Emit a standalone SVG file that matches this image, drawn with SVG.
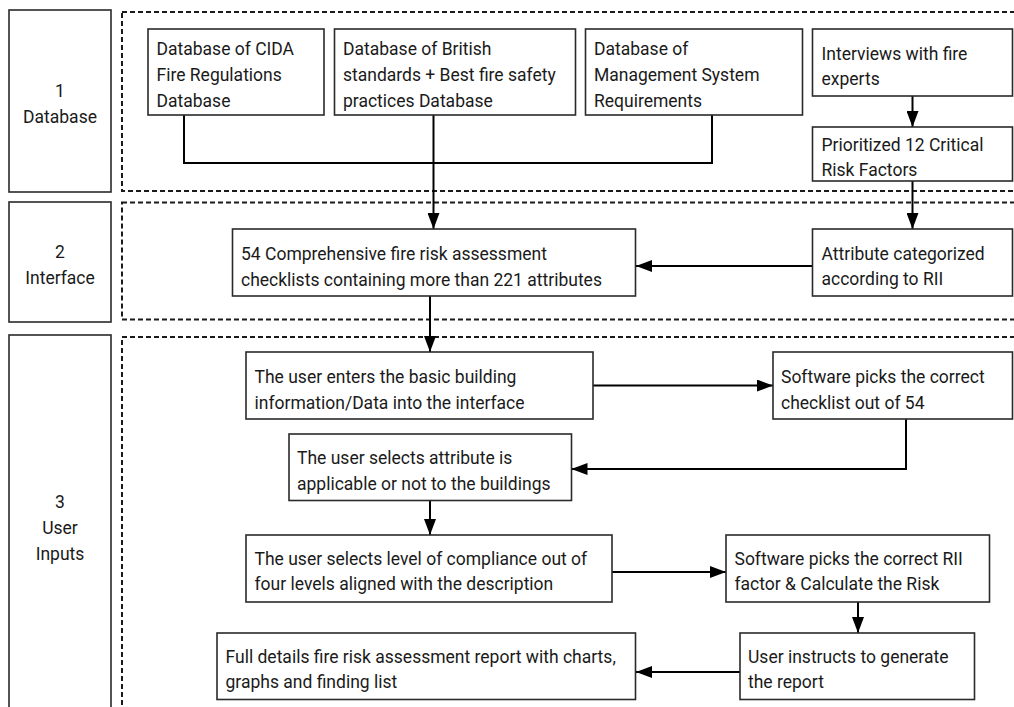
<svg xmlns="http://www.w3.org/2000/svg" width="1014" height="707" viewBox="0 0 1014 707">
<defs>
<style>
.box{fill:#fff;stroke:#2a2a2a;stroke-width:1.6}
.lane{fill:none;stroke:#1a1a1a;stroke-width:2;stroke-dasharray:5 3}
.t{font-family:Roboto,"Liberation Sans",sans-serif;font-size:17.5px;fill:#1a1a1a}
.c{text-anchor:middle}
.conn{fill:none;stroke:#000;stroke-width:2}
</style>
<marker id="ah" markerUnits="userSpaceOnUse" markerWidth="16" markerHeight="12" refX="16" refY="6" orient="auto">
<path d="M0,0 L16,6 L0,12 z" fill="#000"/>
</marker>
</defs>
<rect width="1014" height="707" fill="#fff"/>

<g id="lanes">
<rect class="lane" x="122" y="12" width="1000" height="179"/>
<rect class="lane" x="122" y="202.5" width="1000" height="117"/>
<rect class="lane" x="122" y="337" width="1000" height="420"/>
</g>

<g id="lane-1-label"><rect class="box" x="9" y="10" width="102" height="182"/>
<text class="t c" x="60" y="96.5">1</text><text class="t c" x="60" y="122.5">Database</text></g>
<g id="lane-2-label"><rect class="box" x="9" y="202" width="102" height="120"/>
<text class="t c" x="60" y="258">2</text><text class="t c" x="60" y="284">Interface</text></g>
<g id="lane-3-label"><rect class="box" x="9" y="335" width="102" height="420"/>
<text class="t c" x="60" y="508">3</text><text class="t c" x="60" y="534">User</text><text class="t c" x="60" y="560">Inputs</text></g>

<g id="connectors">
<polyline class="conn" points="184,115 184,163 712,163 712,115"/>
<line class="conn" x1="433.5" y1="115" x2="433.5" y2="229" marker-end="url(#ah)"/>
<line class="conn" x1="912.5" y1="96" x2="912.5" y2="127" marker-end="url(#ah)"/>
<line class="conn" x1="912.5" y1="181" x2="912.5" y2="229" marker-end="url(#ah)"/>
<line class="conn" x1="812" y1="266" x2="636" y2="266" marker-end="url(#ah)"/>
<line class="conn" x1="430" y1="296" x2="430" y2="352" marker-end="url(#ah)"/>
<line class="conn" x1="593" y1="385.5" x2="773" y2="385.5" marker-end="url(#ah)"/>
<polyline class="conn" points="906,419 906,469 571.5,469" marker-end="url(#ah)"/>
<line class="conn" x1="430" y1="500" x2="430" y2="535" marker-end="url(#ah)"/>
<line class="conn" x1="612" y1="572" x2="726" y2="572" marker-end="url(#ah)"/>
<line class="conn" x1="858" y1="602" x2="858" y2="633" marker-end="url(#ah)"/>
<line class="conn" x1="740" y1="672" x2="636" y2="672" marker-end="url(#ah)"/>
</g>

<g id="cida"><rect class="box" x="148" y="29" width="176" height="86"/>
<text class="t" x="156.5" y="55">Database of CIDA</text><text class="t" x="156.5" y="81">Fire Regulations</text><text class="t" x="156.5" y="107">Database</text></g>
<g id="british"><rect class="box" x="334.5" y="29" width="241" height="86"/>
<text class="t" x="343" y="55">Database of British</text><text class="t" x="343" y="81">standards + Best fire safety</text><text class="t" x="343" y="107">practices Database</text></g>
<g id="management"><rect class="box" x="585.5" y="29" width="217" height="86"/>
<text class="t" x="594" y="55">Database of</text><text class="t" x="594" y="81">Management System</text><text class="t" x="594" y="107">Requirements</text></g>
<g id="interviews"><rect class="box" x="812.5" y="29" width="200" height="67"/>
<text class="t" x="821.5" y="59.5">Interviews with fire</text><text class="t" x="821.5" y="85">experts</text></g>
<g id="prioritized"><rect class="box" x="812.5" y="127" width="200" height="54"/>
<text class="t" x="821.5" y="150.5">Prioritized 12 Critical</text><text class="t" x="821.5" y="176">Risk Factors</text></g>

<g id="checklists"><rect class="box" x="232.5" y="229" width="403" height="67"/>
<text class="t" x="241" y="259.5">54 Comprehensive fire risk assessment</text><text class="t" x="241" y="285.5">checklists containing more than 221 attributes</text></g>
<g id="attribute"><rect class="box" x="812.5" y="229" width="200" height="67"/>
<text class="t" x="821.5" y="259.5">Attribute categorized</text><text class="t" x="821.5" y="285">according to RII</text></g>

<g id="user-enters"><rect class="box" x="246" y="352" width="347" height="67"/>
<text class="t" x="254.5" y="382.5">The user enters the basic building</text><text class="t" x="254.5" y="408.5">information/Data into the interface</text></g>
<g id="software-checklist"><rect class="box" x="773" y="352" width="239.5" height="67"/>
<text class="t" x="781" y="382.5">Software picks the correct</text><text class="t" x="781" y="408.5">checklist out of 54</text></g>
<g id="user-selects-attribute"><rect class="box" x="289" y="434" width="282.5" height="66.5"/>
<text class="t" x="297" y="463.5">The user selects attribute is</text><text class="t" x="297" y="489.5">applicable or not to the buildings</text></g>
<g id="user-selects-level"><rect class="box" x="246" y="535" width="366" height="67"/>
<text class="t" x="254.5" y="564.5">The user selects level of compliance out of</text><text class="t" x="254.5" y="590">four levels aligned with the description</text></g>
<g id="software-rii"><rect class="box" x="726" y="535" width="263.5" height="67"/>
<text class="t" x="734.5" y="564.5">Software picks the correct RII</text><text class="t" x="734.5" y="590">factor &amp; Calculate the Risk</text></g>
<g id="full-report"><rect class="box" x="217" y="633" width="418.5" height="66.5"/>
<text class="t" x="225.5" y="662.5">Full details fire risk assessment report with charts,</text><text class="t" x="225.5" y="688">graphs and finding list</text></g>
<g id="user-instructs"><rect class="box" x="740" y="633" width="234.5" height="66.5"/>
<text class="t" x="748" y="662.5">User instructs to generate</text><text class="t" x="748" y="688">the report</text></g>
</svg>
